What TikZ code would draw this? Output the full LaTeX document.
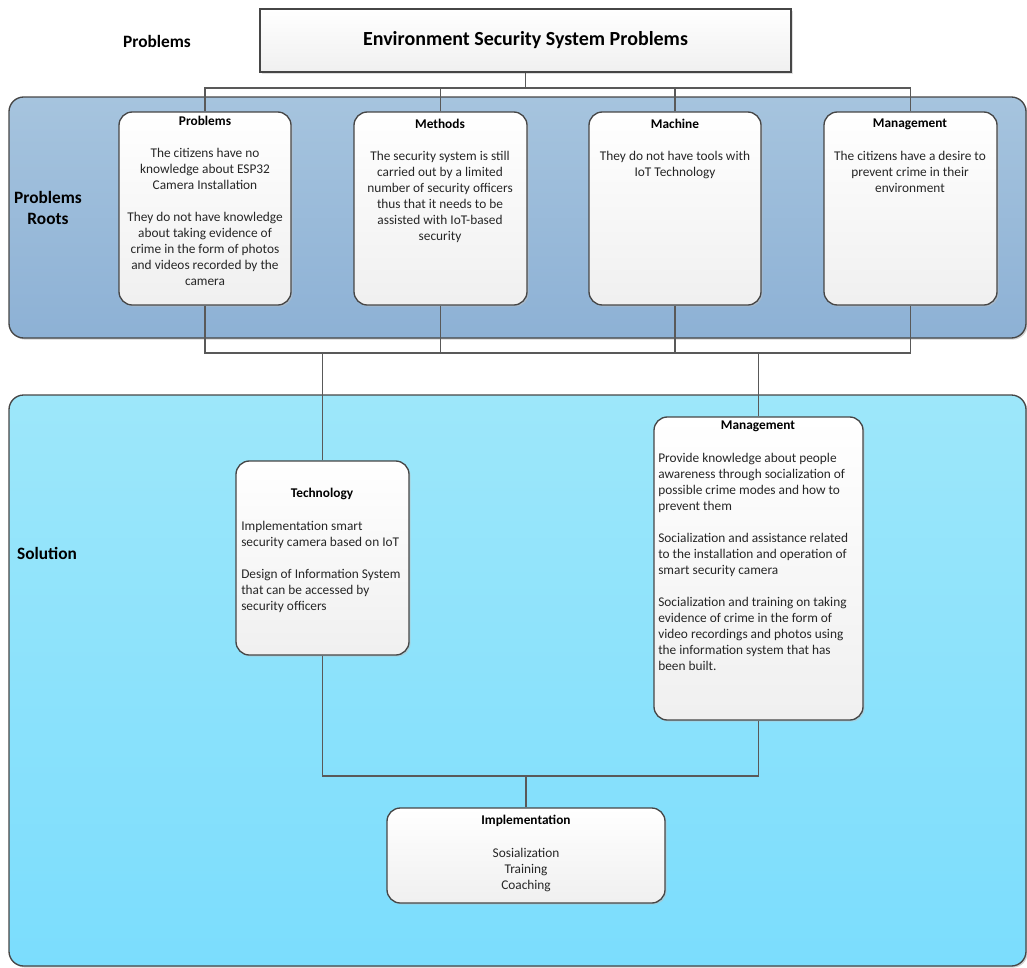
\documentclass[tikz,border=0pt]{standalone}
\usepackage{fontspec}
\setmainfont{Carlito}
\usetikzlibrary{positioning, fit, shadows, calc}
\definecolor{rootstop}{RGB}{166,196,222}
\definecolor{rootsbot}{RGB}{141,177,213}
\definecolor{soltop}{RGB}{157,231,250}
\definecolor{solbot}{RGB}{123,221,253}
\definecolor{edgegray}{RGB}{70,70,70}
\tikzset{x=0.75pt, y=-0.75pt, % one unit = one pixel of the layout
        band/.style={ % large coloured areas
            draw=edgegray, line width=1pt,
            rounded corners=11pt, inner sep=0pt,
            drop shadow={shadow xshift=1.2pt, shadow yshift=-1.2pt, fill=black!35}},
        card/.style={ % white boxes with text
            draw=edgegray, line width=1pt,
            rounded corners=10pt, inner sep=0pt,
            top color=white, bottom color=black!6,
            drop shadow={shadow xshift=1.2pt, shadow yshift=-1.2pt, fill=black!25}},
        head/.style={font=\fontsize{10}{12}\selectfont\bfseries},
        body/.style={font=\fontsize{10}{12}\selectfont, text=black!85, inner sep=0pt},
        bigtext/.style={font=\fontsize{13}{15.6}\selectfont\bfseries, align=center},
        link/.style={draw=black!65, line width=1.1pt}
        }
\begin{document}
\begin{tikzpicture}
    \useasboundingbox (0,0) rectangle (1027,967);

    % background areas
    \node[band, top color=rootstop, bottom color=rootsbot, fit={(9,97) (1026,338)}] (roots) {};
    \node[band, top color=soltop, bottom color=solbot, fit={(9,395) (1026,966)}] (sol) {};

    \coordinate (tb) at (0,88);
    \coordinate (bb) at (0,353);
    \coordinate (lb) at (0,776);

    % boxes
    \node[card, rounded corners=0pt, fit={(260,9) (791,72)}] (title) {};
    \node[card, fit={(119,112) (291,305)}] (prob) {};
    \node[card, fit={(354,112) (527,305)}] (meth) {};
    \node[card, fit={(589,112) (761,305)}] (mach) {};
    \node[card, fit={(824,112) (997,305)}] (mgt) {};
    \node[card, fit={(236,461) (409,655)}] (tech) {};
    \node[card, fit={(654,417) (863,720)}] (msol) {};
    \node[card, fit={(387,808) (665,903)}] (impl) {};

    % connectors
    \draw[link] (title.south) -- (title.south |- tb);
    \draw[link] (prob.north) -- (prob.north |- tb) -- (mgt.north |- tb) -- (mgt.north);
    \draw[link] (meth.north) -- (meth.north |- tb);
    \draw[link] (mach.north) -- (mach.north |- tb);
    \draw[link] (prob.south) -- (prob.south |- bb) -- (mgt.south |- bb) -- (mgt.south);
    \draw[link] (meth.south) -- (meth.south |- bb);
    \draw[link] (mach.south) -- (mach.south |- bb);
    \draw[link] (tech.north) -- (tech.north |- bb);
    \draw[link] (msol.north) -- (msol.north |- bb);
    \draw[link] (tech.south) -- (tech.south |- lb) -- (msol.south |- lb) -- (msol.south);
    \draw[link] (impl.north) -- (impl.north |- lb);

    % side labels
    \node[bigtext] (toplabel) at (157,41) {Problems};
    \node[bigtext] (rootslabel) at (48,208) {Problems\\Roots};
    \node[bigtext] (sollabel) at (47,553) {Solution};
    \node[font=\fontsize{15}{18}\selectfont\bfseries] (titletext) at (title.center) {Environment Security System Problems};

    % box texts
    \node[head] (probhead) at (205,121) {Problems};
    \node[body, align=center, anchor=north] (probtext) at (205,148)
        {The citizens have no\\knowledge about ESP32\\Camera Installation\\[12pt]
         They do not have knowledge\\about taking evidence of\\crime in the form of photos\\and videos recorded by the\\camera};
    \node[head] (methhead) at (440,124) {Methods};
    \node[body, align=center, anchor=north] (methtext) at (440,151)
        {The security system is still\\carried out by a limited\\number of security officers\\thus that it needs to be\\assisted with IoT-based\\security};
    \node[head] (machhead) at (675,124) {Machine};
    \node[body, align=center, anchor=north] (machtext) at (675,151)
        {They do not have tools with\\IoT Technology};
    \node[head] (mgthead) at (910,124) {Management};
    \node[body, align=center, anchor=north] (mgttext) at (910,151)
        {The citizens have a desire to\\prevent crime in their\\environment};

    \node[head] (techhead) at (322,494) {Technology};
    \node[body, align=left, anchor=north west] (techtext) at (241,521)
        {Implementation smart\\security camera based on IoT\\[12pt]
         Design of Information System\\that can be accessed by\\security officers};
    \node[head] (msolhead) at (758,426) {Management};
    \node[body, align=left, anchor=north west] (msoltext) at (658,453)
        {Provide knowledge about people\\awareness through socialization of\\possible crime modes and how to\\prevent them\\[12pt]
         Socialization and assistance related\\to the installation and operation of\\smart security camera\\[12pt]
         Socialization and training on taking\\evidence of crime in the form of\\video recordings and photos using\\the information system that has\\been built.};
    \node[head] (implhead) at (526,821) {Implementation};
    \node[body, align=center, anchor=north] (impltext) at (526,848)
        {Sosialization\\Training\\Coaching};
\end{tikzpicture}
\end{document}
